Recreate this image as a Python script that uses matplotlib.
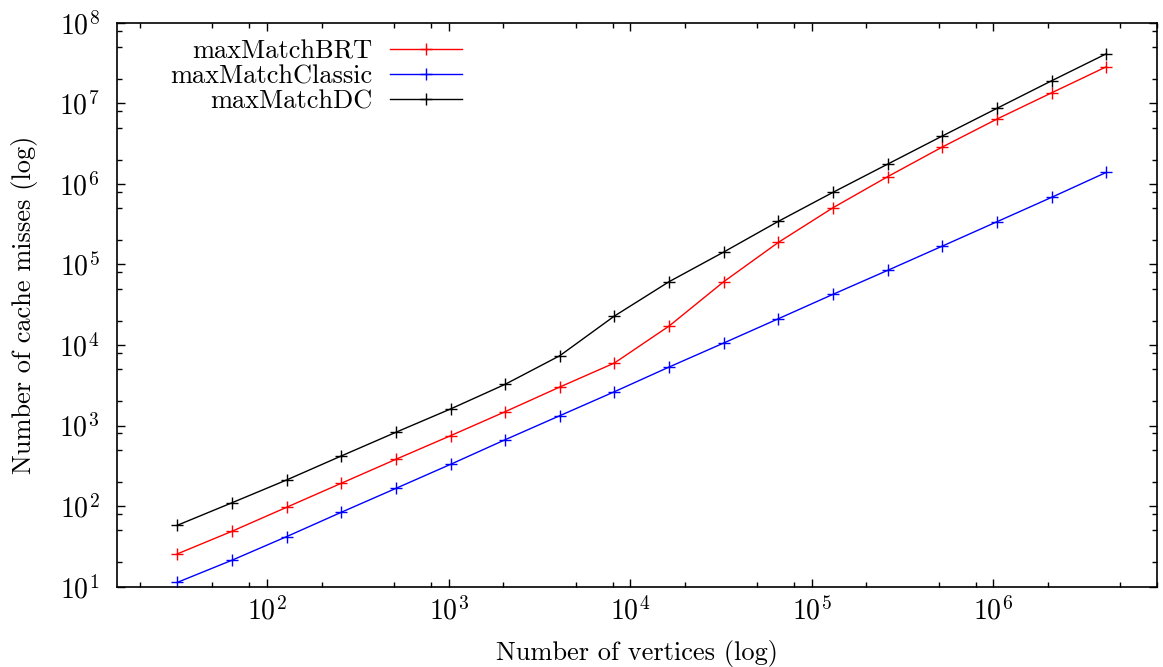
import matplotlib
matplotlib.use("Agg")
import matplotlib.pyplot as plt
from matplotlib.ticker import LogLocator, LogFormatterMathtext, NullFormatter

plt.rcParams['mathtext.fontset'] = 'cm'
plt.rcParams['font.family'] = ['cmr10', 'DejaVu Serif']
plt.rcParams['axes.formatter.use_mathtext'] = True

vertices = [2**k for k in range(5, 23)]
brt = [25.5, 48.7, 96.7, 192, 381, 748, 1486, 3010, 5980, 17200, 61100, 188000,
       506000, 1.23e6, 2.87e6, 6.38e6, 1.35e7, 2.84e7]
classic = [11.3, 21.3, 41.8, 83.8, 166, 330, 667, 1326, 2632, 5330, 10590, 21200,
           42600, 84500, 169000, 339000, 681000, 1.39e6]
dc = [57.8, 110, 211, 419, 825, 1606, 3252, 7363, 22900, 61100, 142600, 343000,
      786000, 1.76e6, 3.93e6, 8.67e6, 1.905e7, 4.12e7]

fig = plt.figure(figsize=(11.63, 6.67), dpi=100)
ax = fig.add_axes([117.5/1163, 1-586.7/667, (1157.3-117.5)/1163, (586.7-22.7)/667])

kw = dict(marker='+', markersize=8, markeredgewidth=1.0, linewidth=1.0)
ax.plot(vertices, brt, color='#ff0000', label='maxMatchBRT', **kw)
ax.plot(vertices, classic, color='#0000ff', label='maxMatchClassic', **kw)
ax.plot(vertices, dc, color='#000000', label='maxMatchDC', **kw)

ax.set_xscale('log')
ax.set_yscale('log')
ax.set_xlim(15, 8e6)
ax.set_ylim(10, 1e8)

for axis in (ax.xaxis, ax.yaxis):
    axis.set_major_locator(LogLocator(base=10, numticks=20))
    axis.set_minor_locator(LogLocator(base=10, subs=(2, 5, 8), numticks=20))
    axis.set_major_formatter(LogFormatterMathtext())
    axis.set_minor_formatter(NullFormatter())

ax.tick_params(which='both', direction='in', top=True, right=True, labelsize=20)
ax.tick_params(axis='x', which='major', pad=7)
ax.tick_params(axis='y', which='major', pad=13)
ax.tick_params(which='major', length=6, width=1.0)
ax.tick_params(which='minor', length=3.6, width=1.0)
for s in ax.spines.values():
    s.set_linewidth(1.2)

ax.set_xlabel('Number of vertices (log)', fontsize=19)
ax.set_ylabel('Number of cache misses (log)', fontsize=19)
ax.xaxis.set_label_coords(0.5, -0.094)
ax.yaxis.set_label_coords(-0.0765, 0.5)

leg = ax.legend(loc='upper right', bbox_to_anchor=(0.3414, 0.989), markerfirst=False, frameon=False,
                fontsize=19, handlelength=2.73, handletextpad=0.68, labelspacing=0.05,
                borderaxespad=0.0)

fig.savefig('out.png', dpi=100)
